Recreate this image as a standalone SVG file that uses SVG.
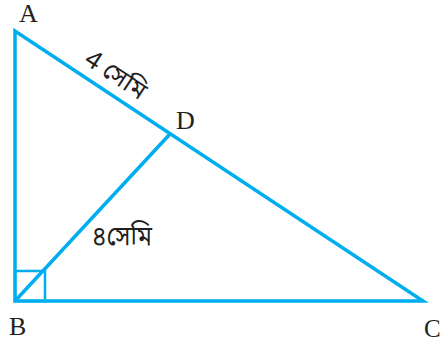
<svg xmlns="http://www.w3.org/2000/svg" width="444" height="341" viewBox="0 0 444 341">
<style>
.edge{fill:none;stroke:#00AEEF;stroke-width:3.5;stroke-linejoin:miter;stroke-linecap:butt}
.thin{fill:none;stroke:#00AEEF;stroke-width:2.5}
.lbl{font-family:"Liberation Serif","Times New Roman",serif;font-size:26px;fill:#231F20}
.bn{font-family:"Noto Sans Bengali","Noto Serif Bengali","Liberation Serif",serif;font-size:25px;fill:#231F20}
</style>
<rect width="444" height="341" fill="#ffffff"/>
<g id="connectors">
<polygon class="edge" points="15,31 15,301 423,301"/>
<line class="edge" x1="15" y1="301" x2="170" y2="134"/>
<rect class="thin" x="15" y="271" width="30" height="30"/>
</g>
<g id="node-A"><text class="lbl" x="19" y="22">A</text></g>
<g id="node-B"><text class="lbl" x="9" y="335">B</text></g>
<g id="node-C"><text class="lbl" x="424" y="337" style="font-size:25px">C</text></g>
<g id="node-D"><text class="lbl" x="176" y="129">D</text></g>
<g id="label-AD"><text class="bn" transform="translate(83,63) rotate(33.5)" textLength="68" lengthAdjust="spacingAndGlyphs">4 সেমি</text></g>
<g id="label-BD"><text class="bn" x="92" y="245" style="font-size:27px" textLength="60" lengthAdjust="spacingAndGlyphs">৪সেমি</text></g>
</svg>
